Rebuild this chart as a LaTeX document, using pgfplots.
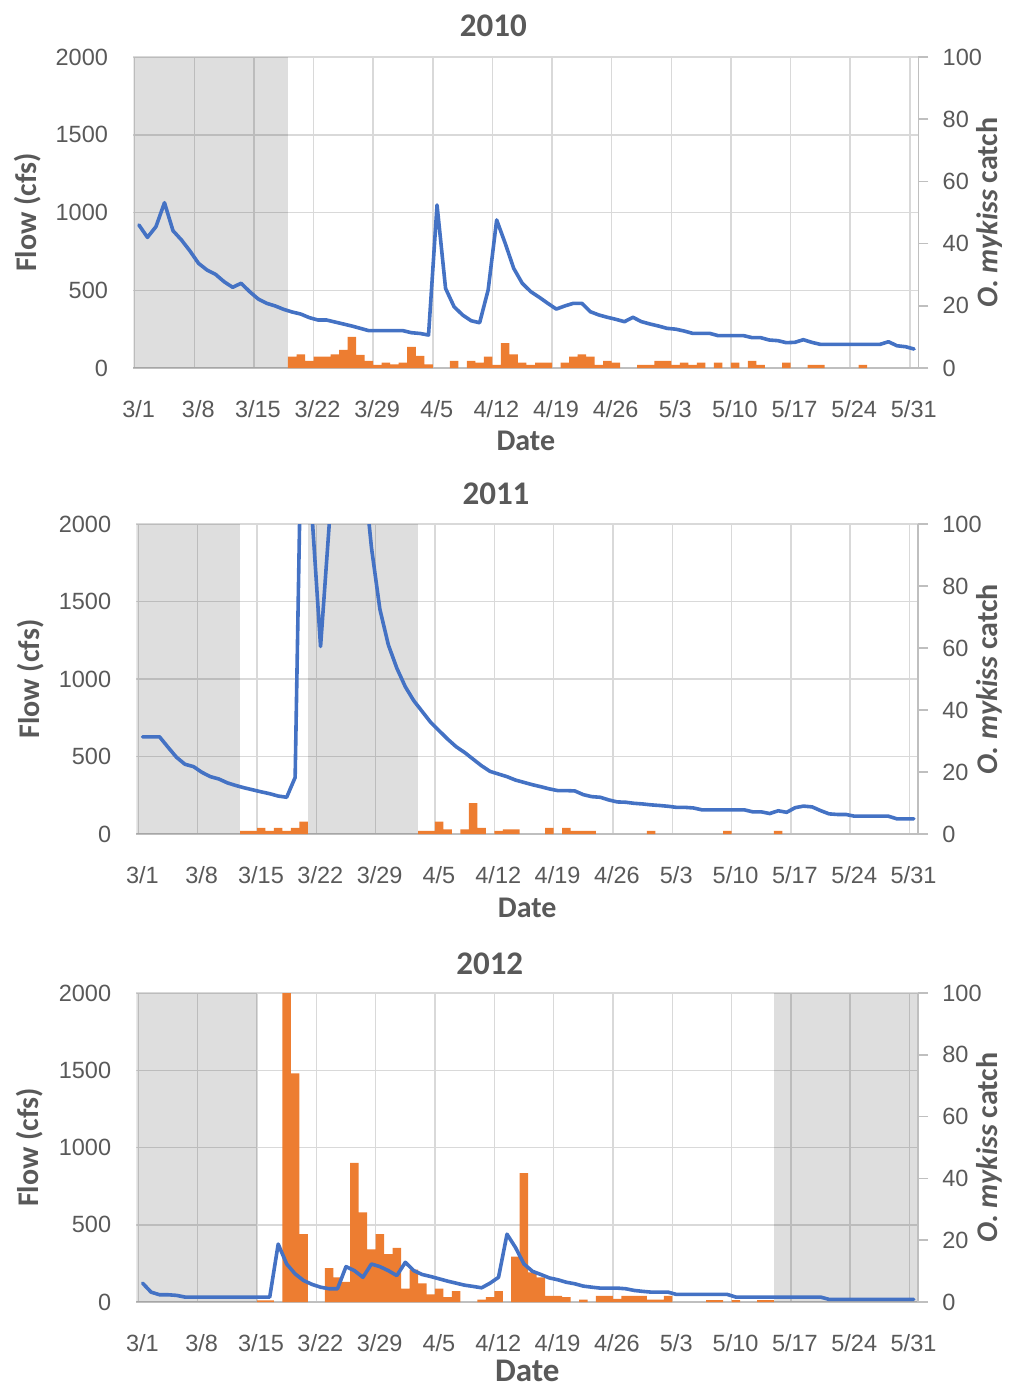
\documentclass[border=0pt]{standalone}
\usepackage{fontspec}
\usepackage{pgfplots}
\usepackage{pgfplotstable}
\pgfplotsset{compat=1.18}
\setmainfont{Carlito}
\newfontfamily\arialf{Liberation Sans}
\definecolor{blueline}{HTML}{4472C4}
\definecolor{orangebar}{HTML}{ED7D31}
\definecolor{gridc}{HTML}{D9D9D9}
\definecolor{textc}{HTML}{595959}
\definecolor{axisc}{HTML}{BFBFBF}
\newcommand\tickfont{\arialf\fontsize{11.75}{12}\selectfont}
\newcommand\labelfont{\bfseries\fontsize{15}{16}\selectfont}
\newcommand\titlefont{\bfseries\fontsize{16.5}{18}\selectfont}

% ---------- flow (cfs), day index 0 = 3/1 ----------
\pgfplotstableread{
d f
0 920
1 840
2 909
3 1063
4 883
5 823
6 752
7 673
8 630
9 602
10 555
11 519
12 545
13 491
14 444
15 416
16 399
17 377
18 360
19 347
20 324
21 309
22 309
23 296
24 283
25 270
26 255
27 240
28 240
29 240
30 240
31 240
32 227
33 222
34 212
35 1048
36 512
37 394
38 341
39 304
40 291
41 502
42 952
43 802
44 641
45 545
46 491
47 455
48 416
49 379
50 399
51 416
52 416
53 362
54 341
55 326
56 313
57 298
58 326
59 298
60 283
61 270
62 255
63 250
64 238
65 223
66 223
67 223
68 208
69 208
70 208
71 208
72 195
73 195
74 180
75 176
76 163
77 165
78 182
79 165
80 152
81 152
82 152
83 152
84 152
85 152
86 152
87 152
88 169
89 143
90 137
91 122
}\flowA

\pgfplotstableread{
d f
0 627
1 627
2 627
3 560
4 495
5 450
6 435
7 398
8 370
9 355
10 330
11 313
12 298
13 285
14 272
15 260
16 245
17 237
18 365
19 3500
20 2050
21 1210
22 1980
23 3500
24 3300
25 2900
26 2400
27 1850
28 1450
29 1220
30 1070
31 950
32 860
33 790
34 720
35 666
36 612
37 563
38 526
39 483
40 440
41 404
42 387
43 370
44 348
45 333
46 318
47 305
48 291
49 280
50 280
51 278
52 254
53 241
54 237
55 220
56 207
57 205
58 198
59 194
60 188
61 184
62 179
63 172
64 172
65 168
66 156
67 156
68 156
69 156
70 156
71 156
72 143
73 143
74 132
75 150
76 140
77 170
78 180
79 175
80 151
81 130
82 126
83 126
84 115
85 115
86 115
87 115
88 115
89 98
90 98
91 98
}\flowB

\pgfplotstableread{
d f
0 122
1 64
2 47
3 47
4 43
5 32
6 32
7 32
8 32
9 32
10 32
11 32
12 32
13 32
14 32
15 32
16 375
17 246
18 182
19 139
20 114
21 96
22 86
23 86
24 229
25 203
26 160
27 246
28 229
29 203
30 171
31 257
32 203
33 178
34 165
35 150
36 135
37 122
38 109
39 101
40 92
41 122
42 160
43 439
44 353
45 246
46 199
47 178
48 156
49 144
50 128
51 118
52 103
53 96
54 90
55 90
56 90
57 86
58 75
59 69
60 64
61 64
62 64
63 49
64 49
65 49
66 49
67 49
68 49
69 49
70 32
71 32
72 32
73 32
74 32
75 32
76 32
77 32
78 32
79 32
80 32
81 17
82 17
83 17
84 17
85 17
86 17
87 17
88 17
89 17
90 17
91 17
}\flowC

% ---------- O. mykiss catch ----------
\pgfplotstableread{
d c
18 3.7
19 4.4
20 2.3
21 3.7
22 3.7
23 4.4
24 5.8
25 10
26 4.2
27 2.3
28 1
29 1.7
30 1.2
31 1.7
32 6.8
33 3.9
34 1.2
37 2.3
39 2.3
40 1.7
41 3.7
42 1
43 8
44 4.4
45 1.7
46 1
47 1.7
48 1.7
50 1.7
51 3.7
52 4.4
53 3.7
54 1
55 2.3
56 1.7
59 1
60 1
61 2.3
62 2.3
63 1
64 1.7
65 1
66 1.7
68 1.7
70 1.7
72 2.3
73 1
76 1.7
79 1
80 1
85 1
}\catchA

\pgfplotstableread{
d c
12 1
13 1
14 2
15 1
16 2
17 1
18 2
19 4
33 1
34 1
35 4
36 1.5
38 1.5
39 10
40 2
42 1
43 1.5
44 1.5
48 2
50 2
51 1
52 1
53 1
60 1
69 1
75 1
}\catchB

\pgfplotstableread{
d c
14 0.5
15 0.5
17 100
18 74
19 22
22 11
23 8
24 6.5
25 45
26 29
27 17
28 22
29 15.5
30 17.5
31 4.3
32 10.5
33 6
34 2.5
35 4.3
36 1.6
37 3.5
40 0.8
41 1.6
42 3.5
44 14.7
45 41.7
46 9.6
47 8
48 2
49 2
50 1.6
52 0.8
54 2
55 2
56 1
57 2
58 2
59 2
60 0.8
61 0.8
62 2
67 0.6
68 0.6
70 0.6
73 0.6
74 0.6
}\catchC

\pgfplotsset{
  flowaxis/.style={
    scale only axis, anchor=south west,
    xmax=92, ymin=0, ymax=2000,
    xtick={0,7,...,91},
    xticklabels={3/1,3/8,3/15,3/22,3/29,4/5,4/12,4/19,4/26,5/3,5/10,5/17,5/24,5/31},
    ytick={0,500,...,2000},
    grid=major, major grid style={draw=gridc, line width=0.75pt},
    axis x line*=bottom, axis y line*=left,
    x axis line style={draw=axisc, line width=0.75pt},
    y axis line style={draw=none},
    major tick length=0pt, tick style={draw=none},
    xticklabel style={font=\tickfont, text=textc, anchor=base, yshift=-24.5pt, xshift=2pt},
    yticklabel style={font=\tickfont, text=textc, anchor=east, inner sep=0pt, xshift=-12.5pt},
    /pgf/number format/assume math mode=true,
    /pgf/number format/1000 sep={},
    every axis title shift=0pt,
    title style={font=\titlefont, text=textc, anchor=base},
    xlabel={Date},
    ylabel={Flow (cfs)},
    label style={font=\labelfont, text=textc},
  },
  catchaxis/.style={
    scale only axis, anchor=south west,
    xmax=92, ymin=0, ymax=100,
    axis y line*=right, axis x line=none,
    y axis line style={draw=axisc, line width=0.75pt},
    ytick={0,20,...,100},
    tick align=outside, major tick length=5pt,
    ytick style={draw=axisc, line width=0.75pt},
    yticklabel style={font=\tickfont, text=textc, anchor=west, inner sep=0pt, xshift=7pt},
    /pgf/number format/assume math mode=true,
    ylabel={\textbf{\textit{O. mykiss} catch}},
    ylabel style={font=\labelfont, text=textc, anchor=base},
  },
  lineaxis/.style={
    scale only axis, anchor=south west, hide axis,
    xmax=92, ymin=0, ymax=2000,
  },
  graybox/.style={fill=black, fill opacity=0.13, draw=none},
  catchbars/.style={ybar, bar width=1, bar shift=0pt, fill=orangebar, draw=none},
  flowline/.style={draw=blueline, line width=1.8pt, line join=round, line cap=round},
}

\begin{document}
\begin{tikzpicture}
\useasboundingbox (0,0) rectangle (506pt,-694pt);

% ================= 2010 =================
\begin{axis}[flowaxis, at={(66.65pt,-184pt)}, width=392.5pt, height=155.5pt, xmin=-0.16,
  title={2010}, title style={at={(axis description cs:0.4586,1)}, yshift=10.5pt},
  xlabel style={at={(axis description cs:0.5,0)}, anchor=base, yshift=-41.25pt},
  ylabel style={at={(axis description cs:-0.1229,0.5)}, anchor=base}]
\addplot[graybox] coordinates {(-0.16,2000) (18,2000)} \closedcycle;
\end{axis}
\begin{axis}[catchaxis, at={(66.65pt,-184pt)}, width=392.5pt, height=155.5pt, xmin=-0.16,
  ylabel style={at={(axis description cs:1.1006,0.5)}}]
\addplot[catchbars] table[x expr=\thisrow{d}+0.5, y=c] {\catchA};
\end{axis}
\begin{axis}[lineaxis, at={(66.65pt,-184pt)}, width=392.5pt, height=155.5pt, xmin=-0.16]
\addplot[flowline] table[x expr=\thisrow{d}+0.5, y=f] {\flowA};
\end{axis}

% ================= 2011 =================
\begin{axis}[flowaxis, at={(68.25pt,-417pt)}, width=390.75pt, height=155pt, xmin=-0.22,
  title={2011}, title style={at={(axis description cs:0.46,1)}, yshift=9.75pt},
  xlabel style={at={(axis description cs:0.5,0)}, anchor=base, yshift=-41.75pt},
  ylabel style={at={(axis description cs:-0.1236,0.5)}, anchor=base}]
\addplot[graybox] coordinates {(-0.22,2000) (12,2000)} \closedcycle;
\addplot[graybox] coordinates {(20,2000) (33,2000)} \closedcycle;
\end{axis}
\begin{axis}[catchaxis, at={(68.25pt,-417pt)}, width=390.75pt, height=155pt, xmin=-0.22,
  ylabel style={at={(axis description cs:1.1011,0.5)}}]
\addplot[catchbars] table[x expr=\thisrow{d}+0.5, y=c] {\catchB};
\end{axis}
\begin{axis}[lineaxis, at={(68.25pt,-417pt)}, width=390.75pt, height=155pt, xmin=-0.22]
\addplot[flowline] table[x expr=\thisrow{d}+0.5, y=f] {\flowB};
\end{axis}

% ================= 2012 =================
\begin{axis}[flowaxis, at={(68.25pt,-651pt)}, width=390.75pt, height=154.5pt, xmin=-0.22,
  title={2012}, title style={at={(axis description cs:0.452,1)}, yshift=9.25pt},
  xlabel style={at={(axis description cs:0.5,0)}, anchor=base, yshift=-39.75pt, font=\titlefont},
  ylabel style={at={(axis description cs:-0.1255,0.5)}, anchor=base}]
\addplot[graybox] coordinates {(-0.22,2000) (14,2000)} \closedcycle;
\addplot[graybox] coordinates {(75,2000) (92,2000)} \closedcycle;
\end{axis}
\begin{axis}[catchaxis, at={(68.25pt,-651pt)}, width=390.75pt, height=154.5pt, xmin=-0.22,
  ylabel style={at={(axis description cs:1.1011,0.5)}}]
\addplot[catchbars] table[x expr=\thisrow{d}+0.5, y=c] {\catchC};
\end{axis}
\begin{axis}[lineaxis, at={(68.25pt,-651pt)}, width=390.75pt, height=154.5pt, xmin=-0.22]
\addplot[flowline] table[x expr=\thisrow{d}+0.5, y=f] {\flowC};
\end{axis}

\end{tikzpicture}
\end{document}
